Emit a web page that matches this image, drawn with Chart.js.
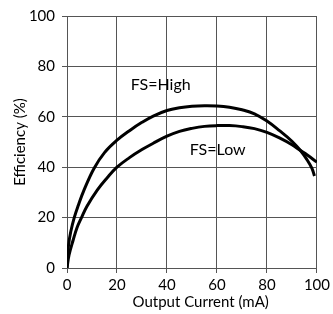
<!DOCTYPE html>
<html>
<head>
<meta charset="utf-8">
<script src="https://cdn.jsdelivr.net/npm/chart.js@4/dist/chart.umd.min.js"></script>
<style>
  html, body { margin: 0; padding: 0; background: #fff; }
  #wrap { width: 333px; height: 314px; }
</style>
</head>
<body>
<div id="wrap"><canvas id="chart" width="333" height="314"></canvas></div>
<script>
// Efficiency vs output current
const highX = [0, 0.6, 1.5, 2.9, 4.5, 6.8, 10.8, 15, 20, 25, 30, 34.5, 40, 45, 50, 55, 60, 65, 70, 75, 80, 85, 90, 93.4, 96, 98, 99];
const highY = [0, 9, 14.4, 20, 24.8, 30.9, 39.5, 45.8, 50.7, 54.5, 57.8, 60.3, 62.5, 63.6, 64.2, 64.4, 64.3, 63.8, 62.8, 61.2, 58.3, 54.5, 50.3, 46.6, 43, 39.5, 36.5];

const lowX = [0, 0.8, 2.5, 4, 5.8, 8, 12.1, 16, 20, 25, 30, 34.5, 40, 45, 50, 55, 60, 65, 70, 75, 80, 85, 90, 93.4, 96, 100];
const lowY = [0, 5.1, 11.2, 16, 20, 24.5, 30.9, 35.7, 40, 43.8, 47, 49.5, 52.3, 54.2, 55.4, 56.2, 56.5, 56.5, 56.1, 55.3, 53.8, 51.6, 48.9, 46.6, 44.9, 42];

const xTicks = [0, 20, 40, 60, 80, 100];
const yTicks = [0, 20, 40, 60, 80, 100];

const seriesNames = ["FS=High", "FS=Low"];
const FONT = "Lato, 'DejaVu Sans', sans-serif";

const toPts = (xs, ys) => xs.map((x, i) => ({ x: x, y: ys[i] }));

// curve captions and x title are placed in data space
const notes = {
  id: "notes",
  afterDraw(chart) {
    const { ctx, scales: { x, y } } = chart;
    ctx.save();
    ctx.fillStyle = "#000";
    ctx.textAlign = "center";
    ctx.textBaseline = "middle";
    ctx.font = "16px " + FONT;
    ctx.fillText(seriesNames[0], x.getPixelForValue(37.5), y.getPixelForValue(72.5));
    ctx.fillText(seriesNames[1], x.getPixelForValue(60.3), y.getPixelForValue(47));
    ctx.font = "15px " + FONT;
    ctx.fillText("Output Current (mA)", x.getPixelForValue(53.5), 302);
    ctx.restore();
  }
};

new Chart(document.getElementById("chart"), {
  type: "scatter",
  data: {
    datasets: [
      {
        label: seriesNames[0],
        data: toPts(highX, highY),
        showLine: true,
        borderColor: "#000",
        borderWidth: 3,
        pointRadius: 0,
        tension: 0.4
      },
      {
        label: seriesNames[1],
        data: toPts(lowX, lowY),
        showLine: true,
        borderColor: "#000",
        borderWidth: 3,
        pointRadius: 0,
        tension: 0.4
      }
    ]
  },
  options: {
    responsive: false,
    animation: false,
    layout: { padding: { top: 15, right: 14, left: 0, bottom: 0 } },
    plugins: {
      legend: { display: false },
      tooltip: { enabled: false }
    },
    scales: {
      x: {
        type: "linear",
        min: 0,
        max: 100,
        afterBuildTicks: s => { s.ticks = xTicks.map(v => ({ value: v })); },
        afterFit: s => { s.height = 46; },
        grid: { color: "#555", lineWidth: 1, tickLength: 5 },
        border: { color: "#555" },
        ticks: { color: "#000", padding: 3, font: { family: FONT, size: 15 } }
      },
      y: {
        type: "linear",
        min: 0,
        max: 100,
        afterBuildTicks: s => { s.ticks = yTicks.map(v => ({ value: v })); },
        afterFit: s => { s.width = 67; },
        grid: { color: "#555", lineWidth: 1, tickLength: 5 },
        border: { color: "#555" },
        title: {
          display: true,
          text: "Efficiency (%)",
          color: "#000",
          padding: { top: 11, bottom: 0 },
          font: { family: FONT, size: 15 }
        },
        ticks: { color: "#000", padding: 7, font: { family: FONT, size: 15 } }
      }
    }
  },
  plugins: [notes]
});
</script>
</body>
</html>
